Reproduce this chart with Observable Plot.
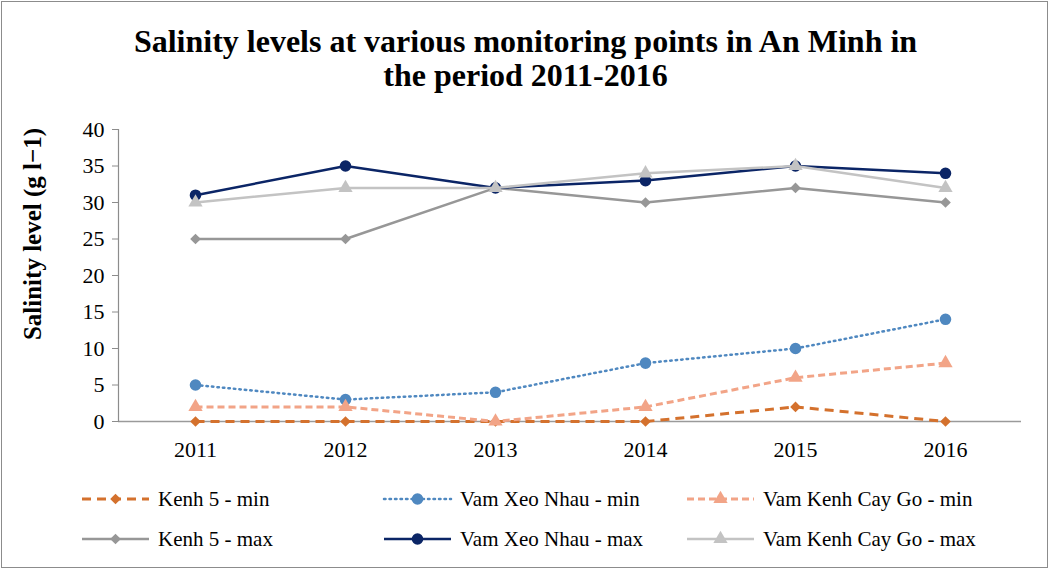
<!DOCTYPE html>
<html>
<head>
<meta charset="utf-8">
<script src="https://cdn.jsdelivr.net/npm/d3@7"></script>
<script src="https://cdn.jsdelivr.net/npm/@observablehq/plot@0.6"></script>
<style>
  body { margin: 0; background: #fff; font-family: "Times New Roman", Times, "Liberation Serif", "DejaVu Serif", serif; }
  #wrap { position: relative; width: 1051px; height: 572px; }
  #box { position: absolute; left: 1px; top: 1px; width: 1047px; height: 567px; border: 1px solid #8c8c8c; box-sizing: border-box; pointer-events: none; }
  #title { position: absolute; left: 0; top: 24px; width: 1051px; text-align: center; font-weight: bold; font-size: 32px; line-height: 34px; color: #000; }
  #chart { position: absolute; left: 0; top: 0; }
  #legend { position: absolute; left: 0; top: 0; }
  svg text { font-family: "Times New Roman", Times, "Liberation Serif", "DejaVu Serif", serif; }
</style>
</head>
<body>
<div id="wrap">
  <div id="chart"></div>
  <div id="title">Salinity levels at various monitoring points in An Minh in<br>the period 2011-2016</div>
  <svg id="legend" width="1051" height="572"></svg>
  <div id="box"></div>
</div>
<script>
const years = ["2011", "2012", "2013", "2014", "2015", "2016"];
const kenh5Min = [0, 0, 0, 0, 2, 0];
const vamXeoNhauMin = [5, 3, 4, 8, 10, 14];
const vamKenhCayGoMin = [2, 2, 0, 2, 6, 8];
const kenh5Max = [25, 25, 32, 30, 32, 30];
const vamXeoNhauMax = [31, 35, 32, 33, 35, 34];
const vamKenhCayGoMax = [30, 32, 32, 34, 35, 32];
const yTicks = [0, 5, 10, 15, 20, 25, 30, 35, 40];
const yLabel = "Salinity level (g l\u22121)";
const serif = "'Times New Roman', Times, 'Liberation Serif', 'DejaVu Serif', serif";

const seriesList = [
  {name: "Kenh 5 - min", values: kenh5Min, color: "#D4712D", dash: "9,6", width: 3, symbol: "diamond2", r: 4.8},
  {name: "Vam Xeo Nhau - min", values: vamXeoNhauMin, color: "#4F88C0", dash: "1.5,4", width: 2.5, symbol: "circle", r: 5.8, cap: "round"},
  {name: "Vam Kenh Cay Go - min", values: vamKenhCayGoMin, color: "#F2A487", dash: "7,4", width: 3, symbol: "triangle", r: 5.3},
  {name: "Kenh 5 - max", values: kenh5Max, color: "#979797", dash: null, width: 2.5, symbol: "diamond2", r: 4.8},
  {name: "Vam Xeo Nhau - max", values: vamXeoNhauMax, color: "#0B2566", dash: null, width: 2.5, symbol: "circle", r: 5.8},
  {name: "Vam Kenh Cay Go - max", values: vamKenhCayGoMax, color: "#C3C3C3", dash: null, width: 2.5, symbol: "triangle", r: 5.3}
];

const marks = [
  Plot.ruleY([0], {stroke: "#9a9a9a", strokeWidth: 1.5}),
  Plot.frame({anchor: "left", stroke: "#8c8c8c", strokeWidth: 1.2}),
  Plot.axisY({ticks: yTicks, tickSize: 6, tickPadding: 8, stroke: "#8c8c8c", fill: "#000", fontSize: 22, label: null}),
  Plot.axisX({tickSize: 0, tickPadding: 20, fill: "#000", fontSize: 22, label: null})
];
for (const s of seriesList) {
  const data = years.map((y, i) => ({year: y, value: s.values[i]}));
  marks.push(Plot.line(data, {x: "year", y: "value", stroke: s.color, strokeWidth: s.width,
    strokeDasharray: s.dash || undefined, strokeLinecap: s.cap || "butt", strokeLinejoin: "round"}));
  marks.push(Plot.dot(data, {x: "year", y: "value", symbol: () => s.symbol, fill: s.color, stroke: "none", r: s.r}));
}

const plot = Plot.plot({
  width: 1051,
  height: 572,
  marginTop: 129,
  marginBottom: 151,
  marginLeft: 118,
  marginRight: 30,
  style: {fontFamily: serif, background: "transparent", overflow: "visible"},
  x: {type: "point", domain: years, padding: 0.5},
  y: {domain: [0, 40]},
  symbol: {type: "identity"},
  marks
});
document.getElementById("chart").appendChild(plot);

// y-axis title
const leg = d3.select("#legend");
leg.append("text")
  .attr("transform", "translate(41,234) rotate(-90)")
  .attr("text-anchor", "middle")
  .attr("font-weight", "bold")
  .attr("font-size", 25)
  .text(yLabel);

// legend
const colX = [82, 384, 687];
const rowY = [499, 539];
seriesList.forEach((s, i) => {
  const cx = colX[i % 3];
  const cy = rowY[Math.floor(i / 3)];
  const g = leg.append("g");
  g.append("line").attr("x1", cx).attr("x2", cx + 67).attr("y1", cy).attr("y2", cy)
    .attr("stroke", s.color).attr("stroke-width", s.width)
    .attr("stroke-dasharray", s.dash || null).attr("stroke-linecap", s.cap || "butt");
  const symType = s.symbol === "circle" ? d3.symbolCircle : s.symbol === "triangle" ? d3.symbolTriangle : d3.symbolDiamond2;
  const size = s.r * s.r * Math.PI;
  g.append("path").attr("d", d3.symbol(symType, size)()).attr("transform", `translate(${cx + 33.5},${cy})`)
    .attr("fill", s.color);
  g.append("text").attr("x", cx + 76).attr("y", cy).attr("dy", "0.35em")
    .attr("font-size", 21).attr("fill", "#000").text(s.name);
});
</script>
</body>
</html>
